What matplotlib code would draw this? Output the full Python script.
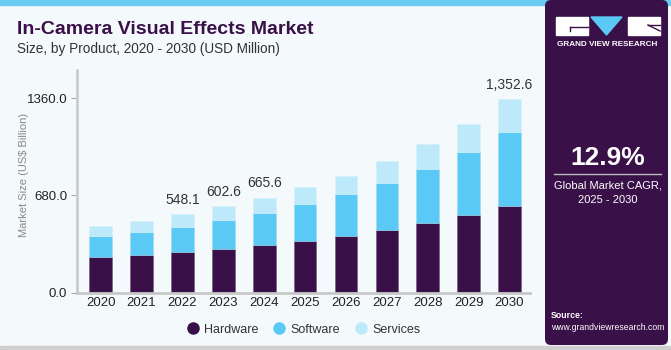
import numpy as np
import matplotlib.pyplot as plt
from matplotlib.patches import Rectangle, FancyBboxPatch, Polygon

# Données
years = ['2020', '2021', '2022', '2023', '2024', '2025', '2026', '2027', '2028', '2029', '2030']
hardware = [247, 265, 284, 305, 333, 361, 398, 440, 485, 541, 608]
software = [149, 161, 177, 201, 224, 257, 292, 330, 383, 444, 517]
services = [72, 75, 87.1, 96.6, 108.6, 119, 129, 152, 170, 196, 227.6]
labelled = {'2022': '548.1', '2023': '602.6', '2024': '665.6', '2030': '1,352.6'}
yticks = [0, 680, 1360]
ytick_labels = ['0.0', '680.0', '1360.0']

purple = '#3A1048'
blue = '#5BC9F5'
light = '#BDE9FA'
bg = '#F4F9FC'

W, H = 671, 350
fig = plt.figure(figsize=(W / 100, H / 100), dpi=100)
fig.patch.set_facecolor(bg)

# fond, bandeau et panneau de droite (coordonnées en pixels)
deco = fig.add_axes([0, 0, 1, 1], zorder=0)
deco.set_xlim(0, W)
deco.set_ylim(H, 0)
deco.axis('off')
deco.add_patch(Rectangle((0, 0), W, 5, color='#6CCDF2'))
deco.add_patch(Rectangle((0, 346), W, 4, color='#CFCFCF'))
deco.add_patch(FancyBboxPatch((545, 0), 123, 345, boxstyle='round,pad=0,rounding_size=6',
                              facecolor=purple, edgecolor='none'))
# logo
deco.add_patch(Rectangle((556, 17), 32, 18, color='white'))
deco.plot([570, 588], [27, 27], color=purple, lw=1)
deco.plot([570, 570], [27, 31], color=purple, lw=1)
deco.add_patch(Polygon([(591, 17), (622, 17), (606.5, 35)], closed=True, color='#5BC9F5'))
deco.add_patch(Rectangle((628, 17), 32, 18, color='white'))
deco.plot([648, 660], [25, 31], color=purple, lw=1)
deco.plot([648, 660], [25, 25], color=purple, lw=1)
deco.text(607.5, 44, 'GRAND VIEW RESEARCH', color='white', fontsize=5.9, fontweight='bold',
          ha='center', va='center', family='Liberation Sans')
deco.text(607.5, 158, '12.9%', color='white', fontsize=19, fontweight='bold',
          ha='center', va='center', family='Liberation Sans')
deco.plot([554, 661], [173.5, 173.5], color='#BBBBBB', lw=1)
deco.text(607.5, 186, 'Global Market CAGR,', color='white', fontsize=8,
          ha='center', va='center', family='Liberation Sans')
deco.text(607.5, 200, '2025 - 2030', color='white', fontsize=8,
          ha='center', va='center', family='Liberation Sans')
deco.text(551, 316, 'Source:', color='white', fontsize=6.3, fontweight='bold',
          ha='left', va='center', family='Liberation Sans')
deco.text(551, 328, 'www.grandviewresearch.com', color='white', fontsize=6.2,
          ha='left', va='center', family='Liberation Sans')

# titres
deco.text(17, 30, 'In-Camera Visual Effects Market', color=purple, fontsize=14,
          fontweight='bold', ha='left', va='center', family='Liberation Sans')
deco.text(17, 49, 'Size, by Product, 2020 - 2030 (USD Million)', color='#333333',
          fontsize=9.8, ha='left', va='center', family='Liberation Sans')

# graphique
ax = fig.add_axes([77 / W, 1 - 292.5 / H, (530 - 77) / W, (292.5 - 70) / H], zorder=1)
ax.set_facecolor('none')
x = np.arange(len(years))
hw = np.array(hardware)
sw = np.array(software)
sv = np.array(services)
w = 0.555
ax.bar(x, hw, w, color=purple, edgecolor='#6E5A78', linewidth=0.4)
ax.bar(x, sw, w, bottom=hw, color=blue, edgecolor='#9FD8EE', linewidth=0.4)
ax.bar(x, sv, w, bottom=hw + sw, color=light, edgecolor='#D6F1FB', linewidth=0.4)

totals = hw + sw + sv
for i, yr in enumerate(years):
    if yr in labelled:
        ax.text(x[i], totals[i] + 50, labelled[yr], ha='center', va='bottom',
                fontsize=10, color='#333333', family='Liberation Sans')

ax.set_xlim(-0.58, 10.5)
ax.set_ylim(0, 1559)
ax.set_xticks(x)
ax.set_xticklabels(years, fontsize=9.5, color='#222222', family='Liberation Sans')
ax.set_yticks(yticks)
ax.set_yticklabels(ytick_labels, fontsize=9.5, color='#222222', family='Liberation Sans')
ax.tick_params(axis='x', length=0, pad=3)
ax.tick_params(axis='y', length=4, width=0.8, color='#AAAAAA', pad=3)
for s in ['top', 'right']:
    ax.spines[s].set_visible(False)
ax.spines['left'].set_color('#C8C8C8')
ax.spines['left'].set_linewidth(1.8)
ax.spines['bottom'].set_color('#C8C8C8')
ax.spines['bottom'].set_linewidth(2)
ax.set_ylabel('Market Size (US$ Billion)', fontsize=8, color='#888888', family='Liberation Sans')
ax.yaxis.set_label_coords(-0.105, 0.528)

# légende à pastilles rondes
leg_markers = [ax.plot([], [], 'o', color=c, ms=8, label=l)[0]
               for c, l in zip([purple, blue, light], ['Hardware', 'Software', 'Services'])]
ax.legend(handles=leg_markers, loc='upper center', bbox_to_anchor=(0.5, -0.09), ncol=3,
          frameon=False, handlelength=1.0, columnspacing=1.15, handletextpad=0.4,
          prop={'family': 'Liberation Sans', 'size': 9}, labelcolor='#333333')

fig.savefig('out.png', dpi=100, facecolor=bg)
